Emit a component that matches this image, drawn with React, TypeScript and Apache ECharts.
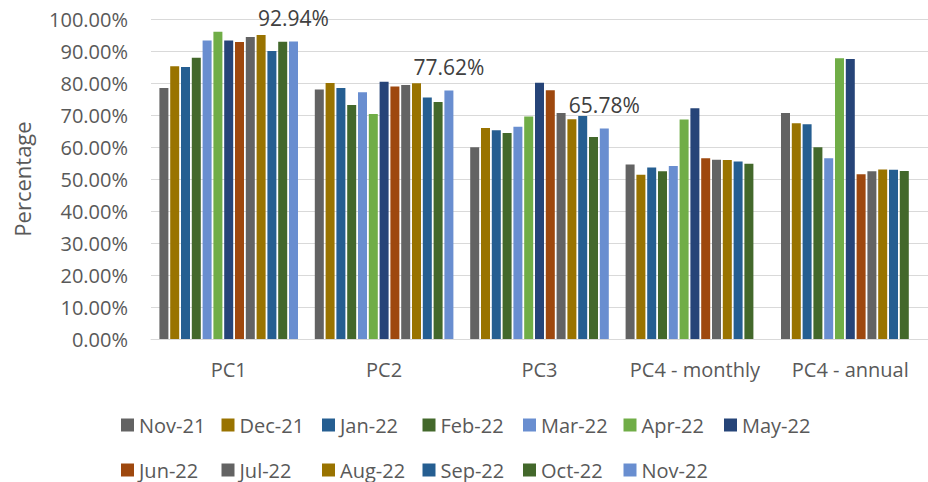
import React, { useEffect, useRef } from "react";
import * as echarts from "echarts";

const categories = ["PC1", "PC2", "PC3", "PC4 - monthly", "PC4 - annual"];
const seriesNames = [
  "Nov-21", "Dec-21", "Jan-22", "Feb-22", "Mar-22", "Apr-22", "May-22",
  "Jun-22", "Jul-22", "Aug-22", "Sep-22", "Oct-22", "Nov-22",
];
const seriesColors = [
  "#636363", "#997300", "#255E91", "#43682B", "#698ED0", "#70AD47", "#264478",
  "#9E480E", "#636363", "#997300", "#255E91", "#43682B", "#698ED0",
];
// values per series, in category order (percent)
const nov21 = [78.4, 78.0, 59.9, 54.5, 70.6];
const dec21 = [85.2, 80.0, 65.9, 51.3, 67.4];
const jan22 = [85.0, 78.4, 65.2, 53.6, 67.1];
const feb22 = [87.9, 73.1, 64.4, 52.4, 59.9];
const mar22 = [93.3, 77.1, 66.3, 54.1, 56.5];
const apr22 = [96.0, 70.3, 69.5, 68.6, 87.7];
const may22 = [93.3, 80.4, 80.1, 72.1, 87.5];
const jun22 = [92.8, 78.9, 77.7, 56.5, 51.5];
const jul22 = [94.4, 79.4, 70.6, 56.0, 52.4];
const aug22 = [95.0, 79.9, 68.7, 55.9, 53.0];
const sep22 = [90.0, 75.5, 69.7, 55.5, 52.9];
const oct22 = [92.9, 74.1, 63.1, 54.8, 52.5];
const nov22 = [92.94, 77.62, 65.78, null, null];
const seriesValues = [nov21, dec21, jan22, feb22, mar22, apr22, may22, jun22, jul22, aug22, sep22, oct22, nov22];
const yTicks = { min: 0, max: 100, interval: 10 };

const FONT = "'Open Sans', sans-serif";
const TEXT = "#595959";

export default function App() {
  const ref = useRef<HTMLDivElement>(null);
  useEffect(() => {
    document.body.style.margin = "0";
    const chart = echarts.init(ref.current!, null, { renderer: "svg" });
    const legendCommon = {
      icon: "rect",
      itemWidth: 13,
      itemHeight: 13,
      itemGap: 10.5,
      left: 121,
      padding: 0,
      orient: "horizontal" as const,
      selectedMode: false,
      textStyle: { color: TEXT, fontFamily: FONT, fontSize: 20, width: 72, lineHeight: 22 },
    };
    chart.setOption({
      animation: false,
      textStyle: { fontFamily: FONT },
      grid: { left: 151, top: 19, width: 786, height: 320, containLabel: false },
      legend: [
        { ...legendCommon, top: 414, data: seriesNames.slice(0, 7) },
        { ...legendCommon, top: 459, data: seriesNames.slice(7) },
      ],
      xAxis: {
        type: "category",
        data: categories,
        axisTick: { show: false },
        axisLine: { lineStyle: { color: "#d9d9d9", width: 1 } },
        axisLabel: { color: TEXT, fontFamily: FONT, fontSize: 20, margin: 20, interval: 0 },
      },
      yAxis: {
        type: "value",
        min: yTicks.min,
        max: yTicks.max,
        interval: yTicks.interval,
        name: "Percentage",
        nameLocation: "middle",
        nameGap: 118,
        nameTextStyle: { color: TEXT, fontFamily: FONT, fontSize: 22 },
        axisLine: { show: false },
        axisTick: { show: false },
        splitLine: { lineStyle: { color: "#d9d9d9", width: 1 } },
        axisLabel: {
          color: TEXT,
          fontFamily: FONT,
          fontSize: 20,
          margin: 23,
          formatter: (v: number) => v.toFixed(2) + "%",
        },
      },
      series: seriesNames.map((name, i) => ({
        name,
        type: "bar",
        data: seriesValues[i],
        barWidth: 9,
        barGap: "20%",
        itemStyle: { color: seriesColors[i] },
        label:
          i === seriesNames.length - 1
            ? {
                show: true,
                position: "top",
                distance: 13,
                color: "#404040",
                fontFamily: FONT,
                fontSize: 21,
                formatter: (p: any) => (p.value == null ? "" : Number(p.value).toFixed(2) + "%"),
              }
            : { show: false },
      })),
    });
    return () => chart.dispose();
  }, []);
  return <div ref={ref} style={{ width: 928, height: 482 }} />;
}
